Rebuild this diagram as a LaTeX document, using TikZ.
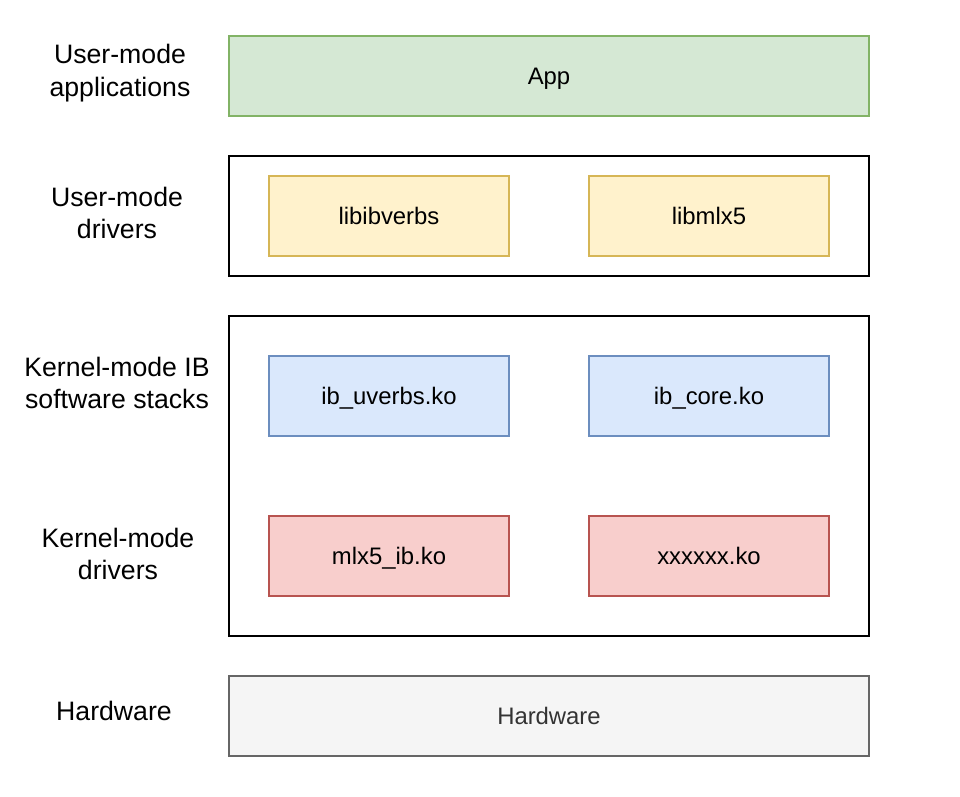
\documentclass[tikz,border=0pt]{standalone}
\usepackage{fontspec}
\setmainfont{Liberation Sans}
\definecolor{gfill}{HTML}{D5E8D4}\definecolor{gdraw}{HTML}{82B366}
\definecolor{yfill}{HTML}{FFF2CC}\definecolor{ydraw}{HTML}{D6B656}
\definecolor{bfill}{HTML}{DAE8FC}\definecolor{bdraw}{HTML}{6C8EBF}
\definecolor{rfill}{HTML}{F8CECC}\definecolor{rdraw}{HTML}{B85450}
\definecolor{hfill}{HTML}{F5F5F5}\definecolor{hdraw}{HTML}{666666}
\definecolor{htext}{HTML}{333333}
\begin{document}
\begin{tikzpicture}[x=0.75pt,y=-0.75pt,
  box/.style={line width=1.1pt},
  btxt/.style={font=\fontsize{17.9}{21}\selectfont,text height=15pt,text depth=2.2pt,inner sep=0pt},
  lbl/.style={align=center,font=\fontsize{20}{24.3}\selectfont}]
\useasboundingbox (0,0) rectangle (960,796);
% App
\draw[box,fill=gfill,draw=gdraw] (229,36) rectangle (869,116) node[midway,btxt] (app) {App};
% user-mode drivers
\draw[box,draw=black] (229,156) rectangle (869,276) coordinate (umd);
\draw[box,fill=yfill,draw=ydraw] (269,176) rectangle (509,256) node[midway,btxt] (libibverbs) {libibverbs};
\draw[box,fill=yfill,draw=ydraw] (589,176) rectangle (829,256) node[midway,btxt] (libmlx5) {libmlx5};
% kernel
\draw[box,draw=black] (229,316) rectangle (869,636) coordinate (kern);
\draw[box,fill=bfill,draw=bdraw] (269,356) rectangle (509,436) node[midway,btxt] (uverbs) {ib\_uverbs.ko};
\draw[box,fill=bfill,draw=bdraw] (589,356) rectangle (829,436) node[midway,btxt] (core) {ib\_core.ko};
\draw[box,fill=rfill,draw=rdraw] (269,516) rectangle (509,596) node[midway,btxt] (mlx) {mlx5\_ib.ko};
\draw[box,fill=rfill,draw=rdraw] (589,516) rectangle (829,596) node[midway,btxt] (xx) {xxxxxx.ko};
% hardware
\draw[box,fill=hfill,draw=hdraw] (229,676) rectangle (869,756) node[midway,btxt,text=htext] (hw) {Hardware};
% labels
\node[lbl] (l1) at (120,73) {User-mode\\applications};
\node[lbl] (l2) at (117,213) {User-mode\\drivers};
\node[lbl] (l3) at (117,383) {Kernel-mode IB\\software stacks};
\node[lbl] (l4) at (118,554) {Kernel-mode\\drivers};
\node[lbl] (l5) at (114,711) {Hardware};
\end{tikzpicture}
\end{document}
